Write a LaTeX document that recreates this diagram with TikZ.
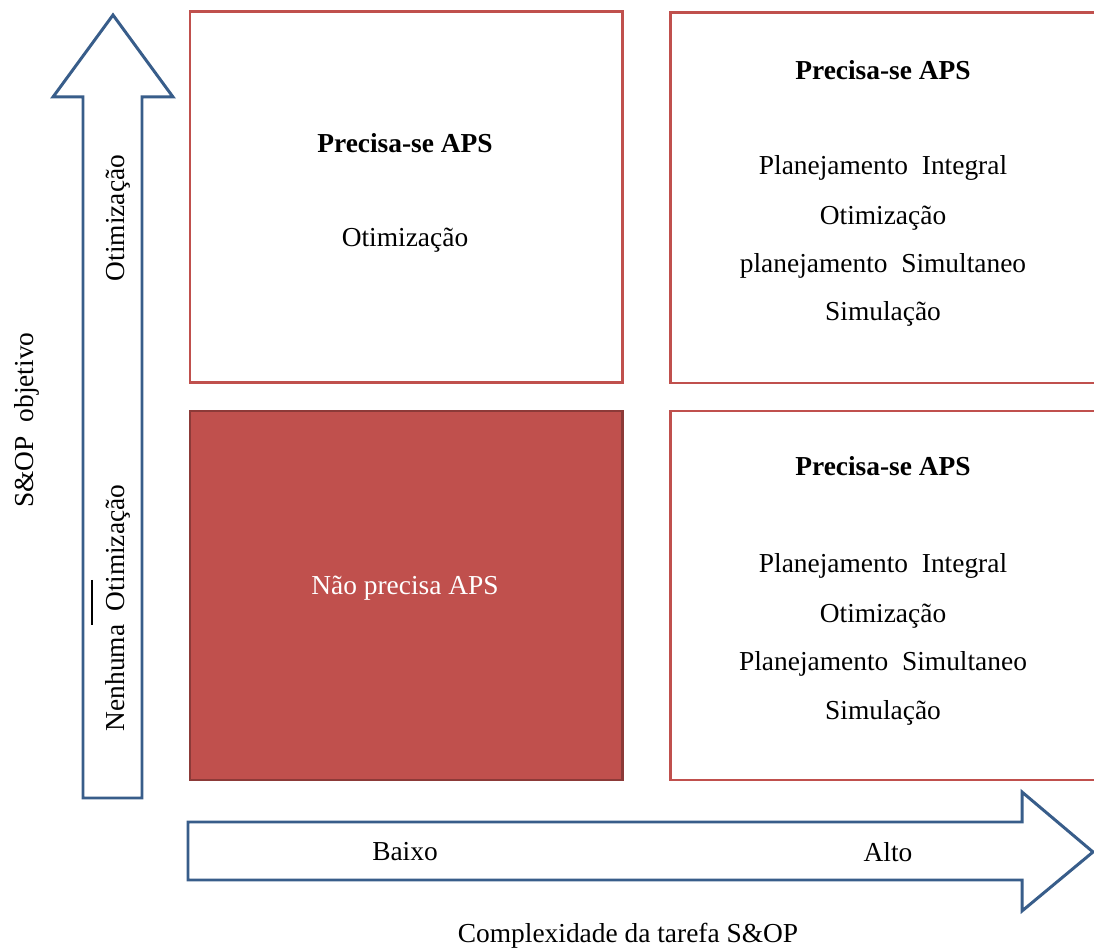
\documentclass[tikz,border=0pt]{standalone}
\usepackage{xcolor}
\usepackage{fontspec}
\setmainfont{Liberation Serif}
\usepackage{tikz}
\usetikzlibrary{positioning}
\definecolor{boxred}{HTML}{C0504D}
\definecolor{boxdark}{HTML}{8C3A38}
\definecolor{axisblue}{HTML}{385D8A}
\tikzset{
    quad/.style={rectangle, draw=boxred, line width=1.7pt, fill=white, inner sep=0pt, outer sep=0pt},
    quadfill/.style={quad, draw=boxdark, fill=boxred},
    axisarrow/.style={draw=axisblue, line width=1.7pt, fill=white, line join=miter},
    head/.style={font=\fontsize{15.6}{18}\selectfont\bfseries},
    item/.style={font=\fontsize{15.6}{18}\selectfont},
    axislabel/.style={font=\fontsize{15.6}{18}\selectfont, rotate=90}
}
\begin{document}
\begin{tikzpicture}
\useasboundingbox (0,0) rectangle (21.88,19.02);
\clip (0,0) rectangle (21.88,19.02);
% quadrants
\node[quad, minimum width=8.64cm, minimum height=7.42cm] (tl) at (8.12,15.07) {};
\node[quad, minimum width=8.6cm, minimum height=7.4cm] (tr) at (17.7,15.06) {};
\node[quadfill, minimum width=8.64cm, minimum height=7.38cm] (bl) at (8.12,7.11) {};
\node[quad, minimum width=8.6cm, minimum height=7.38cm] (br) at (17.7,7.11) {};
% axes
\draw[axisarrow] (1.66,3.06) -- (2.84,3.06) -- (2.84,17.08) -- (3.46,17.08) -- (2.26,18.72) -- (1.06,17.08) -- (1.66,17.08) -- cycle;
\draw[axisarrow] (3.76,2.58) -- (20.44,2.58) -- (20.44,3.18) -- (21.86,1.98) -- (20.44,0.80) -- (20.44,1.42) -- (3.76,1.42) -- cycle;
% top left
\node[head] (tlhead) at (8.10,16.16) {Precisa-se APS};
\node[item] (tlopt) at (8.10,14.22) {Otimização};
% top right
\node[head] (trhead) at (17.66,17.62) {Precisa-se APS};
\node[item] (trint) at (17.66,15.66) {Planejamento\ \ Integral};
\node[item] (tropt) at (17.66,14.66) {Otimização};
\node[item] (trsim) at (17.66,13.70) {planejamento\ \ Simultaneo};
\node[item] (trsml) at (17.66,12.74) {Simulação};
% bottom right
\node[head] (brhead) at (17.66,9.70) {Precisa-se APS};
\node[item] (brint) at (17.66,7.70) {Planejamento\ \ Integral};
\node[item] (bropt) at (17.66,6.70) {Otimização};
\node[item] (brsim) at (17.66,5.74) {Planejamento\ \ Simultaneo};
\node[item] (brsml) at (17.66,4.76) {Simulação};
% bottom left
\node[item, text=white] (blnone) at (8.10,7.26) {Não precisa APS};
% axis labels
\node[item] (low) at (8.10,1.98) {Baixo};
\node[item] (high) at (17.76,1.98) {Alto};
\node[item] (xtitle) at (12.56,0.30) {Complexidade\ da tarefa S\&OP};
\node[axislabel] (ytitle) at (0.54,10.62) {S\&OP\ \ objetivo};
\node[axislabel] (yhigh) at (2.36,14.66) {Otimização};
\node[axislabel] (ylow) at (2.36,6.86) {Nenhuma\ \ Otimização};
\draw[line width=1.6pt] (1.84,7.42) -- (1.84,6.52);
\end{tikzpicture}
\end{document}
